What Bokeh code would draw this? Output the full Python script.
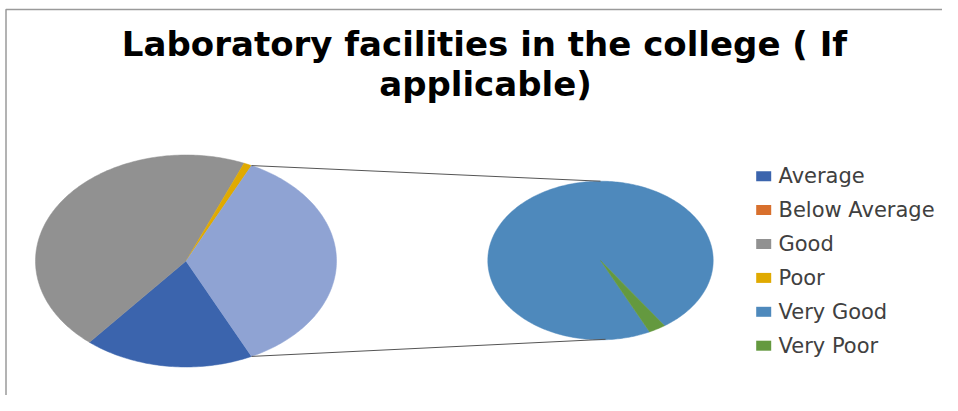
import numpy as np
from bokeh.plotting import figure
from bokeh.models import Range1d
from bokeh.embed import file_html
from bokeh.resources import INLINE
from bokeh.core.properties import value

# ---- data ----
categories = ["Average", "Below Average", "Good", "Poor", "Very Good", "Very Poor"]
counts = [21, 0, 52, 1, 40, 1]
colors = ["#3b64ad", "#d8702d", "#919191", "#e0aa00", "#4e89bc", "#64993f"]
in_second_plot = [False, False, False, False, True, True]
other_color = "#8fa3d3"
title_lines = ["Laboratory facilities in the college ( If", "applicable)"]

# ---- layout ----
W, H = 942, 395
X0, Y0 = 0, 0
C1 = (185.5, 260.5, 150.5, 106.0)   # primary pie cx, cy, rx, ry (px)
C2 = (600.0, 260.0, 112.7, 79.3)    # secondary pie

p = figure(width=W, height=H, x_range=Range1d(X0, X0 + W), y_range=Range1d(Y0 + H, Y0),
           output_backend="svg", toolbar_location=None, x_axis_type=None, y_axis_type=None,
           min_border=0)
p.outline_line_color = None
p.background_fill_color = "white"
p.border_fill_color = "white"
p.grid.visible = False

# chart border (top + left visible)
p.line(x=[5.5, 5.5, W], y=[H, 9, 9], line_color="#9a9a9a", line_width=1.5)


def wedge(c, a0, a1):
    cx, cy, rx, ry = c
    n = max(3, int(abs(a1 - a0)) + 2)
    t = np.radians(np.linspace(a0, a1, n))
    xs = [cx] + list(cx + rx * np.cos(t))
    ys = [cy] + list(cy - ry * np.sin(t))
    return xs, ys


total = sum(counts)
other = sum(c for c, s in zip(counts, in_second_plot) if s)
other_span = 360.0 * other / total

xs_all, ys_all, fills = [], [], []
a = -other_span / 2
for c, col, s in zip(counts, colors, in_second_plot):
    if s or c == 0:
        continue
    span = 360.0 * c / total
    xs, ys = wedge(C1, a, a - span)
    xs_all.append(xs); ys_all.append(ys); fills.append(col)
    a -= span
xs, ys = wedge(C1, other_span / 2, -other_span / 2)
xs_all.append(xs); ys_all.append(ys); fills.append(other_color)

a = -other_span / 2
for c, col, s in zip(counts, colors, in_second_plot):
    if not s or c == 0:
        continue
    span = 360.0 * c / other
    xs, ys = wedge(C2, a, a - span)
    xs_all.append(xs); ys_all.append(ys); fills.append(col)
    a -= span

p.patches(xs=xs_all, ys=ys_all, fill_color=fills, line_color=fills, line_width=0.5)

# connector lines
h = np.radians(other_span / 2)
cx1, cy1, rx1, ry1 = C1
cx2, cy2, rx2, ry2 = C2
p.multi_line(xs=[[cx1 + rx1 * np.cos(h), cx2], [cx1 + rx1 * np.cos(h), cx2 + 5]],
             ys=[[cy1 - ry1 * np.sin(h), cy2 - ry2], [cy1 + ry1 * np.sin(h), cy2 + ry2 - 0.5]],
             line_color="#555555", line_width=1)

# title
p.text(x=[484, 485], y=[63, 103], text=title_lines, text_align="center", text_baseline="bottom",
       text_font=value("DejaVu Sans"), text_font_style="bold", text_font_size="34px", text_color="#000000")

# legend
ly0, ldy = 175.7, 33.9
ly = [ly0 + i * ldy for i in range(len(categories))]
p.rect(x=[763.2] * len(categories), y=ly, width=15, height=10, fill_color=colors, line_color=None)
p.text(x=[778] * len(categories), y=ly, text=categories, text_align="left", text_baseline="middle",
       text_font=value("DejaVu Sans"), text_font_size="21px", text_color="#404040")

open("out.html", "w").write(file_html(p, INLINE))
